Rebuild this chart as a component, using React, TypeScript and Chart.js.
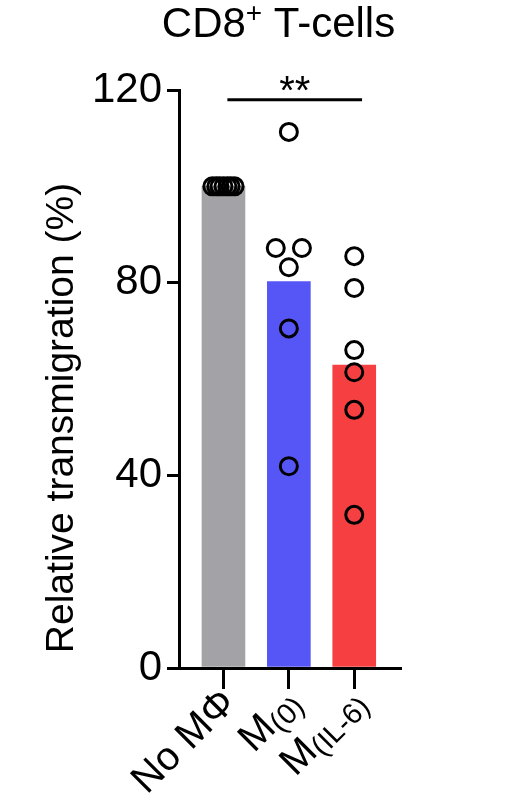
import React, { useEffect, useRef } from 'react';
import { Chart, registerables } from 'chart.js';

Chart.register(...registerables);

const FONT = '"Liberation Sans", Arial, Helvetica, sans-serif';

// groups on the x axis (main text + subscript)
const labelMain = ['No MΦ', 'M', 'M'];
const labelSub = ['', '(0)', '(IL-6)'];

// bar heights (group means) and colours
const barMeans = [100, 80.2, 62.9];
const barColors = ['#a3a3a7', '#5656f6', '#f63f40'];

// individual donors, with a small horizontal spread
const noMacValues = [100, 100, 100, 100, 100, 100, 100];
const noMacJitter = [-0.17, -0.11, -0.06, 0, 0.06, 0.11, 0.17];
const m0Values = [111.3, 87.2, 87.2, 83.2, 70.5, 41.9];
const m0Jitter = [0, -0.2, 0.2, 0, 0, 0];
const il6Values = [85.5, 78.9, 66.0, 61.4, 53.6, 31.8];
const il6Jitter = [0, 0, 0, 0, 0, 0];

const yTicks = [0, 40, 80, 120];

// significance bracket
const sigFrom = 0.06;
const sigTo = 2.12;
const sigLevel = 118;
const sigText = '**';

const titleMain = 'CD8';
const titleSup = '+';
const titleRest = ' T-cells';
const yTitle = 'Relative transmigration (%)';

const groupValues = [noMacValues, m0Values, il6Values];
const groupJitter = [noMacJitter, m0Jitter, il6Jitter];

const textPlugin = {
    id: 'textPlugin',
    afterDraw(chart) {
        const { ctx, chartArea } = chart;
        const x = chart.scales.x;
        const y = chart.scales.y;
        ctx.save();
        ctx.fillStyle = '#000';
        ctx.strokeStyle = '#000';

        // title
        ctx.textBaseline = 'alphabetic';
        ctx.textAlign = 'left';
        ctx.font = `42px ${FONT}`;
        const w1 = ctx.measureText(titleMain).width;
        const w3 = ctx.measureText(titleRest).width;
        ctx.font = `28px ${FONT}`;
        const w2 = ctx.measureText(titleSup).width;
        let tx = 278.5 - (w1 + w2 + w3) / 2;
        ctx.font = `42px ${FONT}`;
        ctx.fillText(titleMain, tx, 37);
        ctx.font = `28px ${FONT}`;
        ctx.fillText(titleSup, tx + w1, 22);
        ctx.font = `42px ${FONT}`;
        ctx.fillText(titleRest, tx + w1 + w2, 37);

        // y axis title
        ctx.save();
        ctx.translate(73, 418);
        ctx.rotate(-Math.PI / 2);
        ctx.textAlign = 'center';
        ctx.font = `39px ${FONT}`;
        ctx.fillText(yTitle, 0, 0);
        ctx.restore();

        // x labels, rotated 45 degrees
        labelMain.forEach((main, i) => {
            const px = x.getPixelForValue(i);
            const py = chartArea.bottom + 21;
            ctx.save();
            ctx.translate(px + 6, py + 8);
            ctx.rotate(-Math.PI / 4);
            ctx.textAlign = 'left';
            ctx.textBaseline = 'middle';
            ctx.font = `40px ${FONT}`;
            const wm = ctx.measureText(main).width;
            ctx.font = `29px ${FONT}`;
            const ws = labelSub[i] ? ctx.measureText(labelSub[i]).width : 0;
            ctx.font = `40px ${FONT}`;
            ctx.fillText(main, -(wm + ws), 0);
            if (labelSub[i]) {
                ctx.font = `29px ${FONT}`;
                ctx.fillText(labelSub[i], -ws, 8);
            }
            ctx.restore();
        });

        // significance bar
        const ly = y.getPixelForValue(sigLevel);
        const x1 = x.getPixelForValue(sigFrom);
        const x2 = x.getPixelForValue(sigTo);
        ctx.lineWidth = 3;
        ctx.beginPath();
        ctx.moveTo(x1, ly);
        ctx.lineTo(x2, ly);
        ctx.stroke();
        ctx.textAlign = 'center';
        ctx.textBaseline = 'alphabetic';
        ctx.font = `40px ${FONT}`;
        ctx.fillText(sigText, (x1 + x2) / 2, ly + 4);

        ctx.restore();
    }
};

export default function App() {
    const canvas = useRef(null);

    useEffect(() => {
        const points = groupValues.flatMap((vals, i) =>
            vals.map((v, k) => ({ x: i + groupJitter[i][k], y: v }))
        );

        const chart = new Chart(canvas.current, {
            type: 'bar',
            data: {
                datasets: [
                    {
                        type: 'scatter',
                        data: points,
                        pointRadius: 8.5,
                        pointBorderWidth: 3,
                        pointBorderColor: '#000',
                        pointBackgroundColor: 'rgba(0,0,0,0)',
                        showLine: false,
                        clip: false,
                        order: 1
                    },
                    {
                        type: 'bar',
                        data: barMeans.map((v, i) => ({ x: i, y: v })),
                        backgroundColor: barColors,
                        borderWidth: 0,
                        barThickness: 43,
                        order: 2
                    }
                ]
            },
            options: {
                animation: false,
                responsive: true,
                maintainAspectRatio: false,
                layout: { padding: { top: 90, right: 114, left: 0, bottom: 0 } },
                plugins: {
                    legend: { display: false },
                    tooltip: { enabled: false },
                    title: { display: false }
                },
                scales: {
                    x: {
                        type: 'linear',
                        min: -0.68,
                        max: 2.7,
                        offset: false,
                        afterBuildTicks: (scale) => {
                            scale.ticks = labelMain.map((_, i) => ({ value: i }));
                        },
                        afterFit: (scale) => {
                            scale.height = 141;
                        },
                        ticks: { display: false },
                        grid: {
                            offset: false,
                            drawOnChartArea: false,
                            drawTicks: true,
                            tickLength: 21,
                            lineWidth: 3,
                            color: '#000'
                        },
                        border: { display: true, color: '#000', width: 3 }
                    },
                    y: {
                        min: 0,
                        max: 120,
                        afterBuildTicks: (scale) => {
                            scale.ticks = yTicks.map((v) => ({ value: v }));
                        },
                        afterFit: (scale) => {
                            scale.width = 179;
                        },
                        ticks: {
                            color: '#000',
                            padding: 5,
                            font: { family: FONT, size: 42 }
                        },
                        grid: {
                            drawOnChartArea: false,
                            drawTicks: true,
                            tickLength: 12,
                            lineWidth: 3,
                            color: '#000'
                        },
                        border: { display: true, color: '#000', width: 3 }
                    }
                }
            },
            plugins: [textPlugin]
        });
        return () => {
            chart.destroy();
        };
    }, []);

    return (
        <div style={{ position: 'fixed', left: 0, top: 0, width: 514, height: 809, background: '#fff' }}>
            <canvas ref={canvas}></canvas>
        </div>
    );
}
